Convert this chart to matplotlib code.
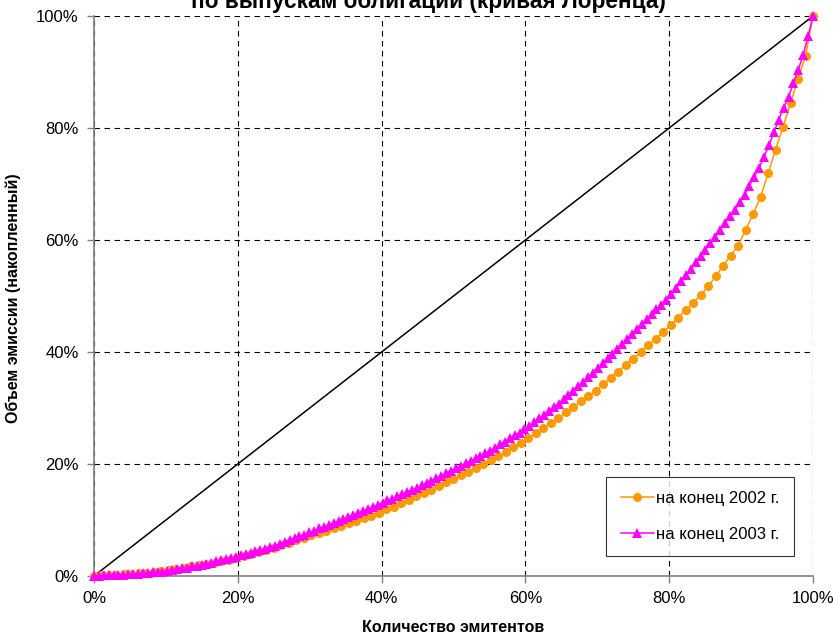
import matplotlib
matplotlib.use("Agg")
import matplotlib.pyplot as plt
from matplotlib.ticker import FuncFormatter, MultipleLocator

plt.rcParams['font.family'] = ['Liberation Sans', 'DejaVu Sans']

title = "по выпускам облигаций (кривая Лоренца)"
xlabel = "Количество эмитентов"
ylabel = "Объем эмиссии (накопленный)"
label_2002 = "на конец 2002 г."
label_2003 = "на конец 2003 г."

# cumulative share of issue volume (%), issuers sorted ascending; equally spaced in x
y_2002 = [0.0, 0.1, 0.1, 0.2, 0.3, 0.3, 0.5, 0.6, 0.8, 0.9,
          1.1, 1.3, 1.5, 1.7, 1.9, 2.2, 2.4, 2.7, 2.9, 3.2,
          3.5, 3.9, 4.3, 4.6, 5.0, 5.5, 5.9, 6.4, 6.8, 7.3,
          7.7, 8.1, 8.5, 9.0, 9.4, 9.9, 10.4, 10.8, 11.3, 11.9,
          12.4, 13.0, 13.6, 14.2, 14.8, 15.4, 16.1, 16.7, 17.3, 18.0,
          18.6, 19.3, 20.0, 20.7, 21.4, 22.2, 23.0, 23.7, 24.6, 25.5,
          26.4, 27.3, 28.2, 29.2, 30.2, 31.2, 32.1, 33.1, 34.2, 35.4,
          36.5, 37.7, 38.8, 40.0, 41.2, 42.4, 43.6, 44.8, 46.1, 47.5,
          48.8, 50.2, 51.7, 53.5, 55.4, 57.2, 59.0, 61.8, 64.6, 67.7,
          71.9, 76.1, 80.2, 84.4, 88.7, 92.9, 100.0]

y_2003 = [0.0, 0.0, 0.1, 0.1, 0.2, 0.2, 0.2, 0.3, 0.4, 0.4,
          0.5, 0.6, 0.7, 0.8, 0.8, 0.9, 1.1, 1.2, 1.4, 1.5,
          1.7, 1.8, 2.0, 2.2, 2.4, 2.6, 2.8, 3.0, 3.2, 3.4,
          3.7, 3.9, 4.1, 4.4, 4.6, 4.9, 5.1, 5.4, 5.7, 6.1,
          6.4, 6.8, 7.1, 7.4, 7.8, 8.1, 8.5, 8.8, 9.1, 9.5,
          9.8, 10.2, 10.5, 10.9, 11.2, 11.6, 12.0, 12.3, 12.7, 13.1,
          13.5, 13.8, 14.2, 14.6, 15.0, 15.4, 15.7, 16.2, 16.6, 17.0,
          17.5, 17.9, 18.4, 18.8, 19.2, 19.7, 20.1, 20.6, 21.0, 21.5,
          21.9, 22.4, 22.9, 23.5, 24.0, 24.6, 25.1, 25.6, 26.2, 26.8,
          27.5, 28.2, 28.8, 29.5, 30.2, 30.8, 31.6, 32.4, 33.1, 33.9,
          34.7, 35.5, 36.3, 37.1, 38.0, 38.9, 39.7, 40.6, 41.5, 42.4,
          43.3, 44.1, 45.0, 45.9, 46.7, 47.6, 48.4, 49.3, 50.3, 51.4,
          52.6, 53.7, 54.8, 56.0, 57.1, 58.3, 59.4, 60.6, 61.8, 63.0,
          64.2, 65.4, 66.7, 68.1, 69.7, 71.3, 72.9, 74.9, 76.9, 79.2,
          81.5, 83.6, 85.6, 88.0, 90.4, 93.1, 96.4, 100.0]

equality = [0, 100]

x_2002 = [100.0 * i / (len(y_2002) - 1) for i in range(len(y_2002))]
x_2003 = [100.0 * i / (len(y_2003) - 1) for i in range(len(y_2003))]

fig = plt.figure(figsize=(8.37, 6.39), dpi=100)
ax = fig.add_axes([94/837, 1 - 576/639, (813-94)/837, (576-16)/639])

ax.plot(equality, equality, color='black', lw=1.1, zorder=2)
ax.plot(x_2002, y_2002, color='#FF9900', lw=1.1, marker='o', markersize=6.5,
        markeredgewidth=0, label=label_2002, zorder=3, clip_on=False)
ax.plot(x_2003, y_2003, color='#FF00FF', lw=1.1, marker='^', markersize=6.8,
        markeredgewidth=0, label=label_2003, zorder=4, clip_on=False)

ax.set_xlim(0, 100)
ax.set_ylim(0, 100)
ax.xaxis.set_major_locator(MultipleLocator(20))
ax.yaxis.set_major_locator(MultipleLocator(20))
pct = FuncFormatter(lambda v, p: f"{int(round(v))}%")
ax.xaxis.set_major_formatter(pct)
ax.yaxis.set_major_formatter(pct)

ax.grid(True, color='black', linestyle=(0, (5, 4)), linewidth=0.8, zorder=1)
for side in ('top', 'right'):
    ax.spines[side].set_visible(False)
for side in ('left', 'bottom'):
    ax.spines[side].set_color('#808080')
    ax.spines[side].set_linewidth(1.2)
ax.tick_params(axis='both', direction='out', length=5, width=1, color='#808080',
               labelsize=12, pad=6)

fig.text(453/837, 1 - 628/639, xlabel, fontsize=11.5, fontweight='bold',
         ha='center', va='center')
fig.text(13/837, 1 - 298/639, ylabel, fontsize=11.5, fontweight='bold',
         ha='center', va='center', rotation=90)

fig.text(428/837, 1 - 8/639, title, fontsize=16.3, fontweight='bold',
         ha='center', va='baseline')

leg = ax.legend(loc='lower right', bbox_to_anchor=((794-94)/719, (576-556)/560),
                fontsize=12, frameon=True, fancybox=False, borderpad=0.85,
                labelspacing=1.25, handlelength=2.0, handletextpad=0.15,
                borderaxespad=0)
leg.get_frame().set_edgecolor('black')
leg.get_frame().set_linewidth(0.8)

fig.savefig("out.png", dpi=100)
